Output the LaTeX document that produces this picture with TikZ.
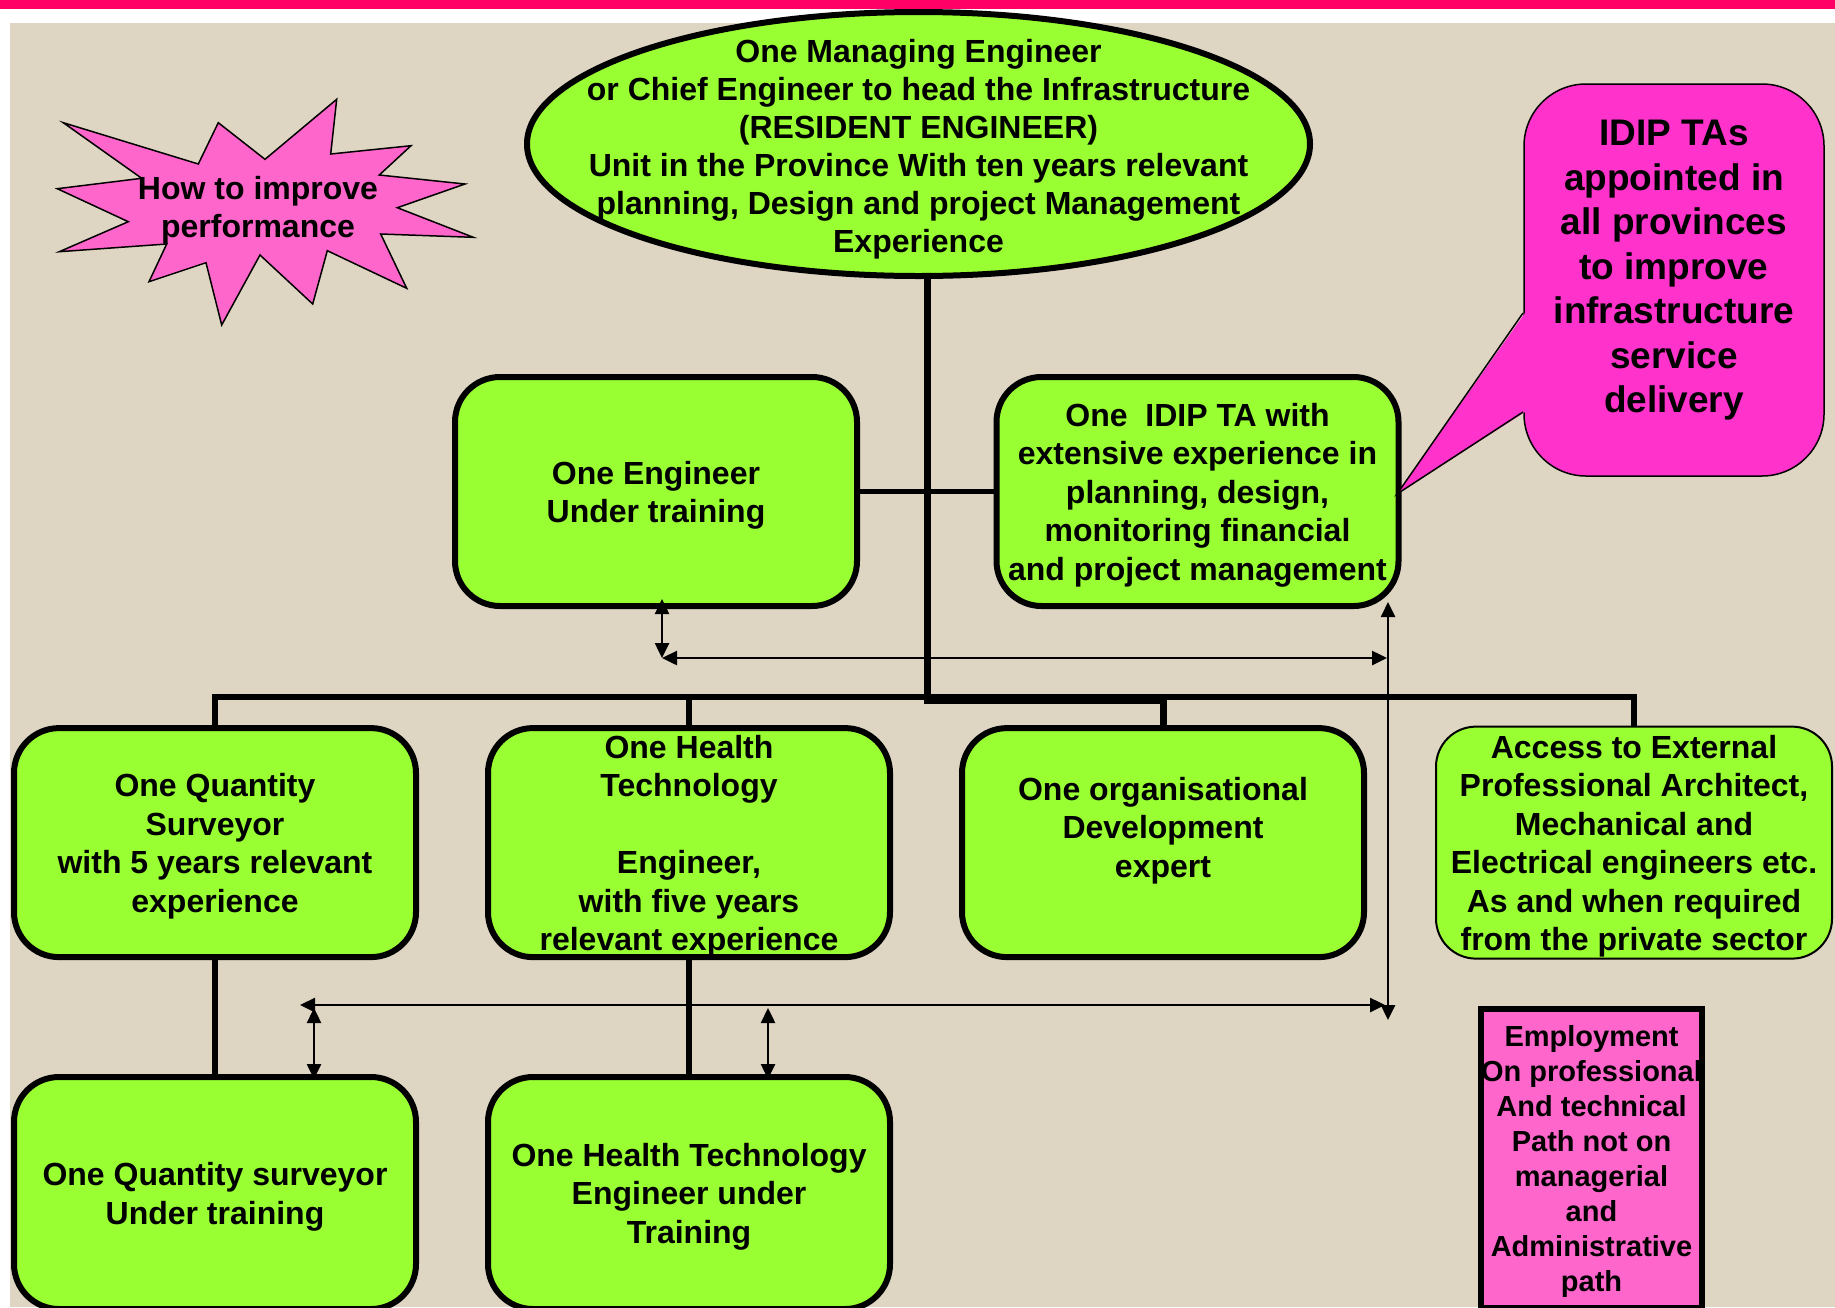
\documentclass[tikz,border=0pt]{standalone}
\usepackage{fontspec}
\setmainfont{Liberation Sans}
\usetikzlibrary{shapes.geometric,arrows.meta}
\definecolor{boxgreen}{RGB}{153,255,51}
\definecolor{canvas}{RGB}{222,213,195}
\definecolor{hotpink}{RGB}{255,51,204}
\definecolor{softpink}{RGB}{255,102,204}
\definecolor{topbar}{RGB}{255,0,102}
\newcommand{\firstline}{\rule{0pt}{0.95em}}
\begin{document}
\begin{tikzpicture}[x=1pt,y=-1pt,
	txt/.style={align=center},
	box/.style={txt, draw, line width=6pt, fill=boxgreen, rounded corners=45pt, minimum width=402pt, minimum height=229pt, font=\fontsize{32}{38.4}\selectfont\bfseries},
	thinbox/.style={box, line width=2pt, rounded corners=40pt, minimum width=396pt, minimum height=232pt},
	link/.style={line width=5.5pt},
	twoway/.style={line width=2.5pt, {Triangle[length=15pt,width=14pt]}-{Triangle[length=15pt,width=14pt]}}]
	\tikzstyle{every node}+=[inner sep=0pt]
	\useasboundingbox (0,0) rectangle (1835,1307);
	\clip (0,0) rectangle (1835,1307);
	\fill [white] (0,0) rectangle (1835,1307);
	\fill [canvas] (10,23) rectangle (1835,1307);
	\fill [topbar] (0,0) rectangle (1835,9);
	\draw [line width=1.5pt, fill=softpink] (63.3,122.7) -- (198.3,164) -- (218.3,122.7) -- (265,159.3) -- (336.7,99.3) -- (330.7,154) -- (411,145.7) -- (379.3,175) -- (465,184) -- (397.3,207.7) -- (473.3,237.3) -- (380.7,234) -- (406.7,288.3) -- (327.3,250.7) -- (312.7,304) -- (260,255) -- (221.7,325) -- (206,262.7) -- (149,281.7) -- (166.7,244) -- (59.3,251.7) -- (128.3,221.7) -- (57.3,188.7) -- (141.7,178.3) -- cycle;
	\node [txt, font=\fontsize{32}{38.4}\selectfont\bfseries] (burstext) at (258,206.6) {\firstline How to improve\\performance};
	\node [ellipse, draw, line width=6pt, fill=boxgreen, minimum width=783pt, minimum height=264pt] (mgr) at (918.5,144) {};
	\node [txt, font=\fontsize{32}{38.1}\selectfont\bfseries] (mgrtext) at (918.5,145.7) {\firstline One Managing Engineer\\or Chief Engineer to head the Infrastructure\\(RESIDENT ENGINEER)\\Unit in the Province With ten years relevant\\planning, Design and project Management\\Experience};
	\node [box] (engtrain) at (656,491.5) {\firstline One Engineer\\Under training};
	\node [box] (idipta) at (1197.5,491.5) {\firstline One\ \ IDIP TA with\\extensive experience in\\planning, design,\\monitoring financial\\and project management};
	\node [box] (qs) at (215,842.6) {\firstline One Quantity\\Surveyor\\with 5 years relevant\\experience};
	\node [box] (ht) at (689,842.6) {\firstline One Health\\Technology\\\mbox{}\\Engineer,\\with five years\\relevant experience};
	\node [box] (od) at (1163,842.6) {\firstline One organisational\\Development\\expert\\\mbox{}};
	\node [thinbox] (ext) at (1634,842.6) {\firstline Access to External\\Professional Architect,\\Mechanical and\\Electrical engineers etc.\\As and when required\\from the private sector};
	\node [box, minimum height=232pt] (qstrain) at (215,1193) {\firstline One Quantity surveyor\\Under training};
	\node [box, minimum height=232pt] (httrain) at (689,1193) {\firstline One Health Technology\\Engineer under\\Training};
	\node [txt, draw, line width=6pt, fill=softpink, minimum width=221pt, minimum height=299pt, font=\fontsize{29}{35}\selectfont\bfseries] (employ) at (1591.5,1158.5) {\firstline Employment\\On professional\\And technical\\Path not on\\managerial\\and\\Administrative\\path};
	\coordinate (trunk) at (927,700);
	\coordinate (bus) at (0,697);
	\draw [line width=7pt] (mgr.south -| trunk) -- (trunk) -| (od.north);
	\draw [link] (qs.north) -- (qs.north |- bus) -- (ext.north |- bus) -- (ext.north);
	\draw [link] (ht.north |- bus) -- (ht.north);
	\draw [link] (od.north |- bus) -- (od.north);
	\draw [line width=5pt] (engtrain.east) -- (idipta.west);
	\draw [link] (qs.south) -- (qstrain.north);
	\draw [link] (ht.south) -- (httrain.north);
	\node [draw, line width=1.5pt, fill=hotpink, rounded corners=62pt, minimum width=300pt, minimum height=392pt] (callout) at (1674,280) {};
	\coordinate (calloutup) at (1523,313);
	\coordinate (calloutlow) at (1523,412);
	\coordinate (callouttip) at (1397,494);
	\fill [hotpink] ([xshift=2pt]calloutup) -- (callouttip) -- ([xshift=2pt]calloutlow) -- cycle;
	\draw [line width=1.5pt] (calloutup) -- (callouttip) -- (calloutlow);
	\node [txt, font=\fontsize{37}{44.5}\selectfont\bfseries] (callouttext) at (1674,265.5) {\firstline IDIP TAs\\appointed in\\all provinces\\to improve\\infrastructure\\service\\delivery};
	\coordinate (engtip) at (662,599);
	\coordinate (upperleft) at (662,658);
	\coordinate (upperright) at (1387,658);
	\coordinate (sidetop) at (1388,602);
	\coordinate (sidebot) at (1388,1020);
	\coordinate (lowerleft) at (300,1005);
	\coordinate (lowerright) at (1385,1005);
	\coordinate (qstop) at (314,1008);
	\coordinate (qsbot) at (314,1079);
	\coordinate (httop) at (768,1008);
	\coordinate (htbot) at (768,1079);
	\draw [twoway] (engtip) -- (upperleft);
	\draw [twoway] (upperleft) -- (upperright);
	\draw [twoway] (sidetop) -- (sidebot);
	\draw [twoway] (lowerleft) -- (lowerright);
	\draw [twoway] (qstop) -- (qsbot);
	\draw [twoway] (httop) -- (htbot);
\end{tikzpicture}
\end{document}
